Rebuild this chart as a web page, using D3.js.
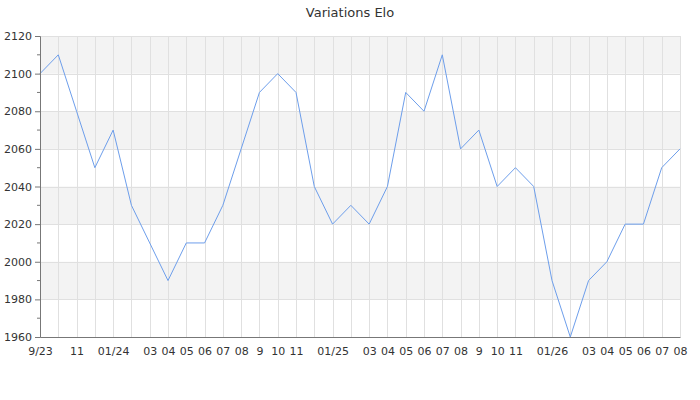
<!DOCTYPE html>
<html>
<head>
<meta charset="utf-8">
<script src="https://cdn.jsdelivr.net/npm/d3@7"></script>
<style>
  body { margin: 0; background: #fff; }
  text { font-family: "DejaVu Sans", sans-serif; fill: #333; }
</style>
</head>
<body>
<div id="chart"></div>
<script>
// months from 9/23 to 08/26, one point per month
var months = ["9/23", "10", "11", "12", "01/24", "02", "03", "04", "05", "06", "07", "08",
              "9", "10", "11", "12", "01/25", "02", "03", "04", "05", "06", "07", "08",
              "9", "10", "11", "12", "01/26", "02", "03", "04", "05", "06", "07", "08"];
// indexes whose label is not printed
var hiddenIdx = [1, 3, 5, 15, 17, 27, 29];
var elo = [2100, 2110, 2080, 2050, 2070, 2030, 2010, 1990, 2010, 2010, 2030, 2060,
           2090, 2100, 2090, 2040, 2020, 2030, 2020, 2040, 2090, 2080, 2110, 2060,
           2070, 2040, 2050, 2040, 1990, 1960, 1990, 2000, 2020, 2020, 2050, 2060];
var yTicks = [1960, 1980, 2000, 2020, 2040, 2060, 2080, 2100, 2120];
var yMinor = [1970, 1990, 2010, 2030, 2050, 2070, 2090, 2110];
var title = "Variations Elo";

var width = 700, height = 400;
var margins = { top: 36, left: 40, right: 20, bottom: 63 };

var svg = d3.select('#chart').append('svg')
            .attr('width', width)
            .attr('height', height);

var xScale = d3.scalePoint()
               .domain(d3.range(months.length))
               .range([margins.left, width - margins.right]);
var yScale = d3.scaleLinear()
               .domain([1960, 2120])
               .range([height - margins.bottom, margins.top]);

// alternating bands
var bands = d3.range(0, yTicks.length - 1).filter(function (i) { return i % 2 === 1; });
svg.selectAll('rect.band')
   .data(bands)
   .enter().append('rect')
   .attr('class', 'band')
   .attr('x', margins.left)
   .attr('width', width - margins.right - margins.left)
   .attr('y', function (i) { return yScale(yTicks[i + 1]); })
   .attr('height', function (i) { return yScale(yTicks[i]) - yScale(yTicks[i + 1]); })
   .attr('fill', '#f3f3f3');

// grid
svg.append('g')
   .selectAll('line')
   .data(yTicks.slice(1))
   .enter().append('line')
   .attr('x1', margins.left).attr('x2', width - margins.right)
   .attr('y1', function (d) { return Math.round(yScale(d)) + 0.5; })
   .attr('y2', function (d) { return Math.round(yScale(d)) + 0.5; })
   .attr('stroke', '#e0e0e0');

svg.append('g')
   .selectAll('line')
   .data(d3.range(1, months.length))
   .enter().append('line')
   .attr('x1', function (i) { return Math.round(xScale(i)) + 0.5; })
   .attr('x2', function (i) { return Math.round(xScale(i)) + 0.5; })
   .attr('y1', margins.top).attr('y2', height - margins.bottom)
   .attr('stroke', '#e0e0e0');

// line
var line = d3.line()
             .x(function (d, i) { return xScale(i); })
             .y(function (d) { return yScale(d); });
svg.append('path')
   .datum(elo)
   .attr('d', line)
   .attr('fill', 'none')
   .attr('stroke', '#6d9eeb')
   .attr('stroke-width', 1);

// axes
var xAxis = d3.axisBottom(xScale)
              .tickSize(0)
              .tickPadding(10)
              .tickFormat(function (i) { return hiddenIdx.indexOf(i) >= 0 ? '' : months[i]; });
var gx = svg.append('g')
   .attr('transform', 'translate(0,' + (height - margins.bottom) + ')')
   .call(xAxis);
gx.select('.domain').attr('stroke', '#777');
gx.selectAll('text').style('font-size', '11px').attr('fill', '#333');

var yAxis = d3.axisLeft(yScale).tickValues(yTicks).tickSize(5).tickPadding(3).tickFormat(d3.format('d'));
var gy = svg.append('g')
   .attr('transform', 'translate(' + margins.left + ',0)')
   .call(yAxis);
gy.select('.domain').attr('stroke', '#777');
gy.selectAll('line').attr('stroke', '#777');
gy.selectAll('text').style('font-size', '11px').attr('fill', '#333');

svg.append('g')
   .selectAll('line')
   .data(yMinor)
   .enter().append('line')
   .attr('x1', margins.left - 3).attr('x2', margins.left)
   .attr('y1', function (d) { return yScale(d); })
   .attr('y2', function (d) { return yScale(d); })
   .attr('stroke', '#777');

svg.append('text')
   .attr('x', width / 2)
   .attr('y', 17)
   .attr('text-anchor', 'middle')
   .style('font-size', '13px')
   .text(title);
</script>
</body>
</html>
